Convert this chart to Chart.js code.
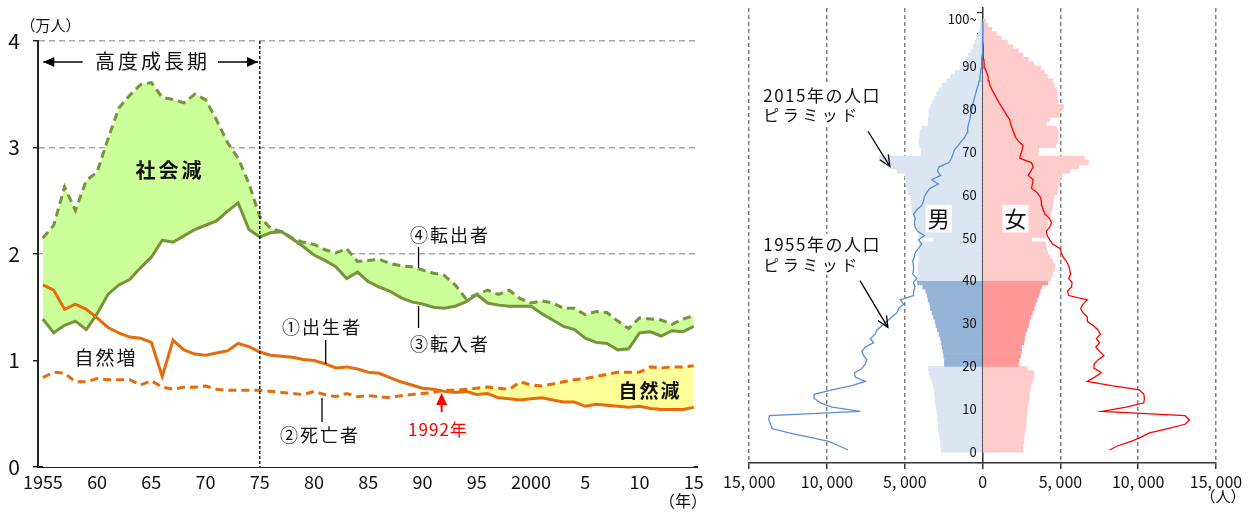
<!DOCTYPE html>
<html>
<head>
<meta charset="utf-8">
<script src="https://cdn.jsdelivr.net/npm/chart.js@4"></script>
<style>
body { margin: 0; background: #fff; }
#wrap { position: relative; width: 1250px; height: 513px; }
#c1 { position: absolute; left: 0; top: 0; }
#c2 { position: absolute; left: 720px; top: 0; }
</style>
</head>
<body>
<div id="wrap">
<canvas id="c1" width="720" height="513" style="width:720px;height:513px"></canvas>
<canvas id="c2" width="530" height="513" style="width:530px;height:513px"></canvas>
</div>
<script>
var JP = "'Noto Sans CJK JP', 'Noto Sans', sans-serif";

// ---- left chart: births / deaths / in- / out-migrants (万人) ----
var years = [1955,1956,1957,1958,1959,1960,1961,1962,1963,1964,1965,1966,1967,1968,1969,1970,
  1971,1972,1973,1974,1975,1976,1977,1978,1979,1980,1981,1982,1983,1984,1985,1986,1987,1988,1989,1990,
  1991,1992,1993,1994,1995,1996,1997,1998,1999,2000,2001,2002,2003,2004,2005,2006,2007,2008,2009,2010,
  2011,2012,2013,2014,2015];
var births = [1.71,1.66,1.48,1.53,1.48,1.40,1.31,1.26,1.22,1.21,1.17,0.85,1.19,1.10,1.06,1.05,
  1.07,1.09,1.16,1.13,1.08,1.05,1.04,1.03,1.01,1.00,0.97,0.93,0.94,0.92,0.89,0.88,0.84,0.80,0.77,0.74,
  0.73,0.71,0.70,0.71,0.68,0.69,0.65,0.64,0.63,0.64,0.65,0.63,0.61,0.61,0.57,0.59,0.58,0.57,0.56,0.57,
  0.55,0.54,0.54,0.54,0.56];
var deaths = [0.84,0.89,0.88,0.80,0.80,0.83,0.82,0.82,0.82,0.77,0.81,0.75,0.73,0.75,0.75,0.76,
  0.73,0.72,0.72,0.72,0.72,0.71,0.70,0.69,0.68,0.71,0.68,0.66,0.69,0.66,0.67,0.66,0.65,0.67,0.68,0.69,
  0.70,0.72,0.72,0.73,0.74,0.75,0.74,0.73,0.80,0.77,0.76,0.78,0.80,0.82,0.83,0.85,0.87,0.89,0.89,0.89,
  0.94,0.93,0.94,0.94,0.95];
var inMig = [1.39,1.26,1.33,1.37,1.29,1.44,1.62,1.71,1.76,1.87,1.97,2.13,2.11,2.17,2.23,2.27,
  2.31,2.40,2.48,2.23,2.16,2.20,2.21,2.14,2.07,1.99,1.94,1.88,1.77,1.83,1.74,1.69,1.65,1.59,1.55,1.53,
  1.50,1.49,1.51,1.55,1.62,1.54,1.52,1.51,1.51,1.51,1.44,1.38,1.32,1.29,1.21,1.17,1.16,1.10,1.11,1.26,
  1.27,1.23,1.28,1.27,1.32];
var outMig = [2.15,2.27,2.63,2.41,2.69,2.77,3.08,3.37,3.49,3.59,3.61,3.47,3.45,3.42,3.50,3.45,
  3.26,3.05,2.90,2.66,2.35,2.24,2.21,2.15,2.11,2.09,2.04,2.01,2.05,1.93,1.94,1.95,1.91,1.89,1.88,1.85,
  1.82,1.80,1.71,1.58,1.62,1.66,1.62,1.66,1.58,1.54,1.56,1.54,1.49,1.49,1.43,1.46,1.45,1.37,1.30,1.40,
  1.39,1.38,1.34,1.39,1.42];
var yearTicks = [1955,1960,1965,1970,1975,1980,1985,1990,1995,2000,2005,2010,2015];
var yearTickLabels = ['1955','60','65','70','75','80','85','90','95','2000','5','10','15'];
var valueTicks = [0,1,2,3,4];

// ---- right chart: population pyramid (人) ----
var ages = [0,1,2,3,4,5,6,7,8,9,10,11,12,13,14,15,16,17,18,19,20,21,22,23,24,25,26,27,28,29,
  30,31,32,33,34,35,36,37,38,39,40,41,42,43,44,45,46,47,48,49,50,51,52,53,54,55,56,57,58,59,
  60,61,62,63,64,65,66,67,68,69,70,71,72,73,74,75,76,77,78,79,80,81,82,83,84,85,86,87,88,89,
  90,91,92,93,94,95,96,97,98,99,100];
var men2015 = [2650,2700,2700,2750,2800,2850,2850,2900,2900,2950,
  3000,3050,3050,3100,3100,3150,3250,3350,3450,3500,
  2450,2450,2500,2550,2600,2650,2700,2800,2900,3000,
  3050,3150,3250,3350,3400,3500,3550,3650,3850,4200,
  4100,4150,4150,4150,4100,4100,4100,4050,4050,3150,
  4100,4150,4200,4300,4400,4500,4550,4550,4600,4600,
  4800,4850,4900,4950,5000,5500,5950,6400,6650,3950,
  3950,4050,4100,4050,4000,3900,3500,3500,3450,3450,
  3350,3250,3100,2950,2800,2600,2300,2050,1750,1450,
  1200,1050,900,750,600,500,380,280,200,130,100];
var women2015 = [2600,2600,2650,2650,2700,2750,2800,2800,2850,2850,
  2900,2950,3000,3000,3050,3100,3200,3300,3300,2850,
  2300,2350,2450,2500,2500,2650,2700,2750,2850,2950,
  3000,3100,3200,3300,3400,3500,3600,3700,3800,4200,
  4400,4500,4600,4650,4500,4350,4200,4100,4050,3150,
  4050,4100,4150,4200,4250,4400,4450,4500,4550,4600,
  4800,4850,4950,5000,5100,5600,6200,6800,6550,3550,
  3600,4700,4850,4850,4850,4750,4100,4300,4950,5000,
  5200,4850,4800,4800,4750,4600,4500,4200,3950,3750,
  3300,2950,2600,2300,1950,1600,1200,900,600,350,200];
var men1955 = [8650,9250,9900,11170,12450,13530,13630,13740,13700,7860,
  9680,10430,10790,10830,9680,8400,7540,8190,8230,7760,
  7540,7440,7650,7760,7540,7010,7220,6900,6790,6470,
  6150,5830,5500,5400,5080,5290,4440,4440,4340,4440,
  4230,4490,4440,4440,4500,4380,4340,4120,3910,4120,
  3750,4180,4340,4380,4340,4440,4230,3910,3800,3750,
  3600,3370,2840,3270,2700,2900,2800,2160,2000,1900,
  1800,1560,1350,1130,1000,960,900,830,770,720,
  660,600,530,450,380,280,220,170,130,100,
  70,50,35,25,15,10,5,5,0,0,0];
var women1955 = [8160,8700,9550,10190,10730,11900,13010,13290,13010,7670,
  9230,10360,10400,10360,10080,8270,6730,7200,7630,7200,
  7160,7410,7800,7520,7270,7520,7310,7580,7410,7100,
  6730,6730,6450,6300,6450,6730,5530,5450,5710,5750,
  5530,5660,5600,5530,5380,5170,5060,4960,4500,4320,
  4150,4100,4320,4420,4300,4000,3890,3800,3780,3700,
  3500,3140,3200,3250,2930,3100,3250,3140,2390,2450,
  2550,2600,2300,2100,2000,1900,1800,1750,1550,1400,
  1220,1050,900,750,600,470,410,360,260,150,
  100,80,60,40,30,20,15,10,5,0,0];
var peopleTicks = [-15000,-10000,-5000,0,5000,10000,15000];
var peopleTickLabels = ['15, 000','10, 000','5, 000','0','5, 000','10, 000','15, 000'];
var ageTicks = [0,5,10,15,20,25,30,35,40,45,50,55,60,65,70,75,80,85,90,95,100];
var ageTickLabels = ['0','','10','','20','','30','','40','','50','','60','','70','','80','','90','','100~'];

var ORANGE = '#E46C0A', GREEN = '#77933C';

function series(vals) {
  return vals.map(function (v, i) { return {x: years[i], y: v}; });
}

function arrowHead(ctx, x1, y1, x2, y2, len, half, filled) {
  var a = Math.atan2(y2 - y1, x2 - x1);
  var bx = x2 - len * Math.cos(a), by = y2 - len * Math.sin(a);
  var px = -Math.sin(a) * half, py = Math.cos(a) * half;
  ctx.beginPath();
  ctx.moveTo(bx + px, by + py);
  ctx.lineTo(x2, y2);
  ctx.lineTo(bx - px, by - py);
  if (filled) { ctx.closePath(); ctx.fill(); } else { ctx.stroke(); }
}

// text, leader lines and arrows on the left chart
var notes1 = {
  id: 'notes1',
  afterDatasetsDraw: function (chart) {
    var ctx = chart.ctx, xs = chart.scales.x, ys = chart.scales.y;
    var X = function (v) { return xs.getPixelForValue(v); };
    var Y = function (v) { return ys.getPixelForValue(v); };
    ctx.save();
    // end of the high-growth period
    ctx.strokeStyle = '#000'; ctx.lineWidth = 1.3; ctx.setLineDash([3, 2]);
    ctx.beginPath(); ctx.moveTo(X(1975), Y(4)); ctx.lineTo(X(1975), Y(0)); ctx.stroke();
    ctx.setLineDash([]);
    // ←  高度成長期  →
    ctx.fillStyle = '#000'; ctx.lineWidth = 1.6;
    [[1958.67, 1955.04], [1971.14, 1974.83]].forEach(function (a) {
      ctx.beginPath(); ctx.moveTo(X(a[0]), Y(3.803)); ctx.lineTo(X(a[1]), Y(3.803)); ctx.stroke();
      arrowHead(ctx, X(a[0]), Y(3.803), X(a[1]), Y(3.803), 11, 5, true);
    });
    // leader lines
    ctx.strokeStyle = '#000'; ctx.lineWidth = 1.3;
    [[1989.63, 2.066, 1.869], [1989.63, 1.512, 1.305], [1981.07, 1.192, 0.967], [1980.73, 0.648, 0.423]].forEach(function (l) {
      ctx.beginPath(); ctx.moveTo(X(l[0]), Y(l[1])); ctx.lineTo(X(l[0]), Y(l[2])); ctx.stroke();
    });
    // red arrow at 1992
    ctx.strokeStyle = '#FF0000'; ctx.fillStyle = '#FF0000'; ctx.lineWidth = 2;
    ctx.beginPath(); ctx.moveTo(X(1991.76), Y(0.516)); ctx.lineTo(X(1991.76), Y(0.6)); ctx.stroke();
    arrowHead(ctx, X(1991.76), Y(0.516), X(1991.76), Y(0.695), 12, 5.5, true);

    ctx.textBaseline = 'middle';
    var txt = function (s, x, y, size, weight, color, align, spacing) {
      ctx.font = weight + ' ' + size + 'px ' + JP;
      ctx.letterSpacing = (spacing || 0) + 'px';
      ctx.fillStyle = color; ctx.textAlign = align;
      ctx.fillText(s, X(x), Y(y));
    };
    txt('高度成長期', 1965.1, 3.807, 20, 'normal', '#111', 'center', 3);
    txt('社会減', 1966.72, 2.789, 20, 'bold', '#111', 'center', 3);
    txt('自然増', 1960.82, 1.028, 19, 'normal', '#111', 'center', 2);
    txt('自然減', 2010.97, 0.714, 19, 'bold', '#111', 'center', 2);
    txt('④転出者', 1988.84, 2.178, 18, 'normal', '#111', 'left', 2);
    txt('③転入者', 1988.84, 1.155, 18, 'normal', '#111', 'left', 2);
    txt('①出生者', 1977.04, 1.315, 18, 'normal', '#111', 'left', 2);
    txt('②死亡者', 1976.86, 0.300, 18, 'normal', '#111', 'left', 2);
    txt('1992年', 1991.42, 0.347, 17, 'normal', '#FF0000', 'center', 1);
    txt('（万人）', 1955.7, 4.15, 15, 'normal', '#111', 'center', 0);
    txt('（年）', 2014.0, -0.32, 16, 'normal', '#111', 'center', 0);
    ctx.restore();
  }
};

new Chart(document.getElementById('c1'), {
  type: 'line',
  data: {
    datasets: [
      {label: '①出生者', data: series(births), borderColor: ORANGE, borderWidth: 3, fill: false},
      {label: '②死亡者', data: series(deaths), borderColor: ORANGE, borderWidth: 3, borderDash: [8, 5],
        fill: {target: 0, above: '#FFFF99', below: 'rgba(0,0,0,0)'}},
      {label: '③転入者', data: series(inMig), borderColor: GREEN, borderWidth: 3, fill: false},
      {label: '④転出者', data: series(outMig), borderColor: GREEN, borderWidth: 3, borderDash: [8, 5],
        fill: {target: 2, above: '#CCFF99', below: '#CCFF99'}},
      // white area under the in-migrant line hides the grid below it
      {label: 'base', data: series(inMig), borderWidth: 0, borderColor: 'rgba(0,0,0,0)', backgroundColor: '#fff', fill: 'origin'}
    ]
  },
  options: {
    responsive: false,
    animation: false,
    elements: {point: {radius: 0}, line: {tension: 0}},
    layout: {padding: {top: 41, right: 23, left: 0, bottom: 0}},
    plugins: {legend: {display: false}, tooltip: {enabled: false}},
    scales: {
      x: {
        type: 'linear', min: 1954.55, max: 2015.3, z: 1,
        afterBuildTicks: function (s) { s.ticks = yearTicks.map(function (v) { return {value: v}; }); },
        afterFit: function (s) { s.height = 46; },
        grid: {display: false, drawTicks: false},
        border: {color: '#222', width: 2},
        ticks: {padding: 4, maxRotation: 0, autoSkip: false, color: '#111', font: {family: JP, size: 18},
          callback: function (v, i) { return yearTickLabels[i]; }}
      },
      y: {
        min: 0, max: 4,
        afterBuildTicks: function (s) { s.ticks = valueTicks.map(function (v) { return {value: v}; }); },
        afterFit: function (s) { s.width = 38; },
        grid: {
          color: function (c) { return c.tick && c.tick.value >= 2 ? '#A6A6A6' : 'rgba(0,0,0,0)'; },
          lineWidth: 1.5, tickColor: '#222', tickLength: 5
        },
        border: {color: '#222', width: 2, dash: [6, 4]},
        ticks: {padding: 13, color: '#111', font: {family: JP, size: 21}}
      }
    }
  },
  plugins: [notes1]
});

// ---- pyramid ----
function pyrLine(vals, sign) {
  return vals.map(function (v, i) { return {x: sign * v, y: ages[i] + 0.5}; });
}
function pyrColors(light, dark) {
  return ages.map(function (a) { return a >= 20 && a < 40 ? dark : light; });
}

var notes2 = {
  id: 'notes2',
  afterDraw: function (chart) {
    var ctx = chart.ctx, xs = chart.scales.x, ys = chart.scales.y;
    var X = function (v) { return xs.getPixelForValue(v); };
    var Y = function (v) { return ys.getPixelForValue(v); };
    ctx.save();
    ctx.textBaseline = 'middle';
    // age labels along the centre axis
    ctx.font = '13px ' + JP; ctx.fillStyle = '#111'; ctx.textAlign = 'right';
    ageTicks.forEach(function (v, i) {
      if (ageTickLabels[i]) ctx.fillText(ageTickLabels[i], X(0) - 6, Y(v) - (v === 100 ? 4 : 0));
    });
    var boxed = function (s, x, y, size, align, spacing) {
      ctx.font = size + 'px ' + JP;
      ctx.letterSpacing = spacing + 'px';
      var w = ctx.measureText(s).width, px = X(x), py = Y(y);
      var left = align === 'left' ? px : px - w / 2;
      ctx.fillStyle = '#fff';
      ctx.fillRect(left - 2, py - size * 0.62, w + 4, size * 1.24);
      ctx.fillStyle = '#111'; ctx.textAlign = align;
      ctx.fillText(s, px, py);
    };
    boxed('2015年の人口', -14100, 83.2, 17, 'left', 1.5);
    boxed('ピラミッド', -14100, 78.6, 16, 'left', 3.5);
    boxed('1955年の人口', -14100, 48.4, 17, 'left', 1.5);
    boxed('ピラミッド', -14100, 43.7, 16, 'left', 3.5);
    boxed('男', -2820, 54.4, 22, 'center', 0);
    boxed('女', 2115, 54.4, 22, 'center', 0);
    ctx.letterSpacing = '0px';
    ctx.font = '15px ' + JP; ctx.fillStyle = '#111'; ctx.textAlign = 'center';
    ctx.fillText('（人）', X(15450), Y(-10.2));
    ctx.strokeStyle = '#000'; ctx.lineWidth = 1.3;
    [[-7370, 74.8, -5960, 66.6], [-7880, 40.0, -6090, 29.1]].forEach(function (a) {
      ctx.beginPath(); ctx.moveTo(X(a[0]), Y(a[1])); ctx.lineTo(X(a[2]), Y(a[3])); ctx.stroke();
      arrowHead(ctx, X(a[0]), Y(a[1]), X(a[2]), Y(a[3]), 11, 5, false);
    });
    ctx.restore();
  }
};

new Chart(document.getElementById('c2'), {
  type: 'bar',
  data: {
    datasets: [
      {type: 'line', label: '1955 男', indexAxis: 'y', data: pyrLine(men1955, -1), borderColor: '#558ED5', borderWidth: 1.3, pointRadius: 0, tension: 0},
      {type: 'line', label: '1955 女', indexAxis: 'y', data: pyrLine(women1955, 1), borderColor: '#FF0000', borderWidth: 1.3, pointRadius: 0, tension: 0},
      {label: '2015 男', indexAxis: 'y', data: pyrLine(men2015, -1), backgroundColor: pyrColors('#DCE6F2', '#95B3D7'),
        borderWidth: 0, grouped: false, barPercentage: 1, categoryPercentage: 1},
      {label: '2015 女', indexAxis: 'y', data: pyrLine(women2015, 1), backgroundColor: pyrColors('#FFCCCC', '#FF9999'),
        borderWidth: 0, grouped: false, barPercentage: 1, categoryPercentage: 1}
    ]
  },
  options: {
    indexAxis: 'y',
    responsive: false,
    animation: false,
    layout: {padding: {top: 8, right: 34, left: 28, bottom: 0}},
    plugins: {legend: {display: false}, tooltip: {enabled: false}},
    scales: {
      x: {
        type: 'linear', min: -15000, max: 15000, z: 1,
        afterBuildTicks: function (s) { s.ticks = peopleTicks.map(function (v) { return {value: v}; }); },
        afterFit: function (s) { s.height = 50; },
        grid: {
          color: function (c) { return c.tick && c.tick.value === 0 ? 'rgba(0,0,0,0)' : '#808080'; },
          lineWidth: 1.5, tickColor: '#333', tickLength: 6, tickWidth: 1.5
        },
        border: {color: '#333', width: 1.5, dash: [4, 3]},
        ticks: {padding: 3, maxRotation: 0, autoSkip: false, color: '#111', font: {family: JP, size: 16},
          callback: function (v, i) { return peopleTickLabels[i]; }}
      },
      y: {
        type: 'linear', min: 0, max: 101, position: {x: 0}, z: 1,
        afterBuildTicks: function (s) { s.ticks = ageTicks.map(function (v) { return {value: v}; }); },
        grid: {drawOnChartArea: false, color: '#333', tickLength: 5, lineWidth: 1.2},
        border: {color: '#333', width: 1.5},
        ticks: {display: false}
      }
    }
  },
  plugins: [notes2]
});
</script>
</body>
</html>
